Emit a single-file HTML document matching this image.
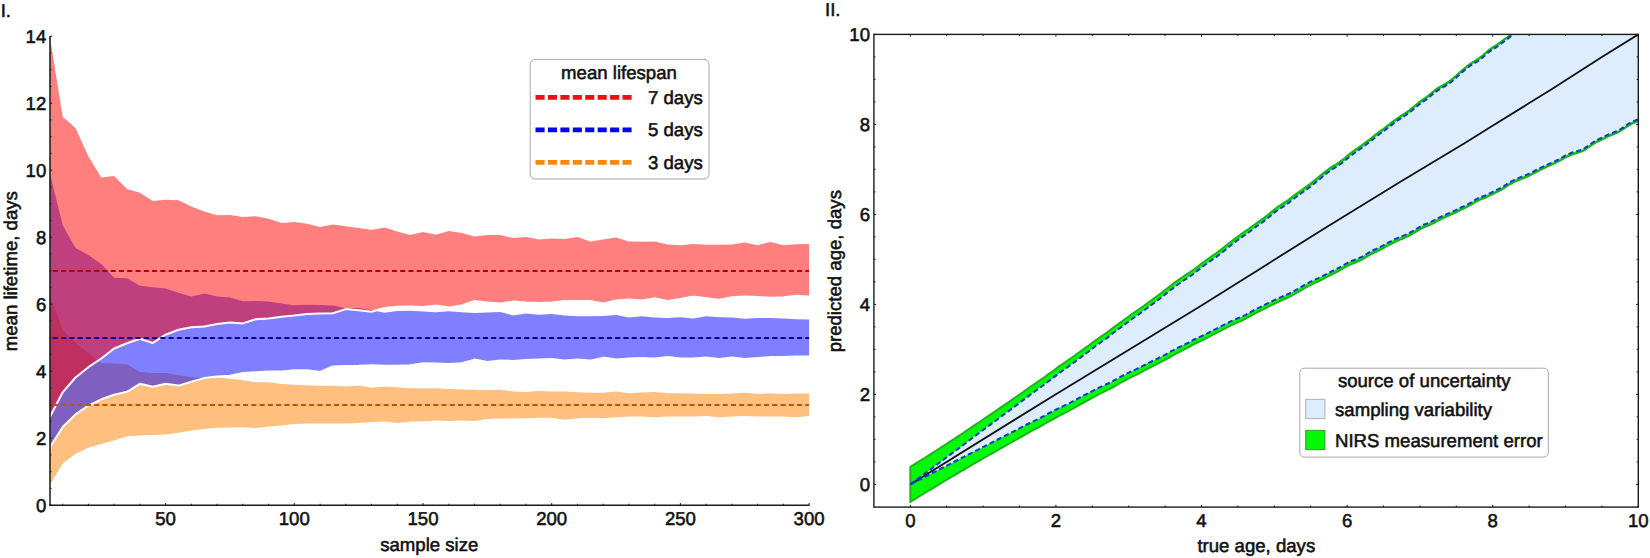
<!DOCTYPE html>
<html><head><meta charset="utf-8"><title>Figure</title>
<style>html,body{margin:0;padding:0;background:#fff;}body{width:1650px;height:558px;overflow:hidden;}svg{display:block;}</style>
</head><body>
<svg width="1650" height="558" viewBox="0 0 1650 558" font-family="Liberation Sans, Arial, sans-serif" font-size="18.6" fill="#111">
<style>text{text-rendering:geometricPrecision;stroke:#111;stroke-width:0.55px;stroke-linejoin:round}</style>
<rect width="1650" height="558" fill="#fff"/>
<path d="M49.8,294.7 L62.7,330.2 L75.5,342.7 L88.4,353.3 L101.3,363.3 L114.1,363.6 L127.0,364.2 L139.9,372.1 L152.8,373.0 L165.6,373.0 L178.5,375.3 L191.4,377.3 L204.2,378.1 L217.1,377.5 L230.0,378.7 L242.8,380.2 L255.7,382.2 L268.6,382.2 L281.5,384.0 L294.3,384.7 L307.2,385.2 L320.1,385.7 L332.9,385.7 L345.8,386.5 L358.7,385.7 L371.6,387.7 L384.4,386.5 L397.3,387.2 L410.2,388.2 L423.0,388.5 L435.9,388.2 L448.8,389.0 L461.6,389.5 L474.5,389.7 L487.4,390.2 L500.2,389.7 L513.1,391.5 L526.0,392.0 L538.9,391.0 L551.7,391.5 L564.6,391.5 L577.5,392.3 L590.3,392.8 L603.2,392.8 L616.1,391.5 L628.9,393.3 L641.8,392.6 L654.7,392.0 L667.6,393.3 L680.4,393.3 L693.3,393.5 L706.2,394.0 L719.0,394.0 L731.9,393.5 L744.8,392.8 L757.6,394.0 L770.5,393.3 L783.4,394.0 L796.3,393.5 L809.1,393.5 L809.1,416.1 L796.3,417.3 L783.4,416.6 L770.5,416.6 L757.6,416.6 L744.8,416.1 L731.9,416.6 L719.0,417.3 L706.2,416.1 L693.3,416.6 L680.4,416.6 L667.6,416.6 L654.7,417.3 L641.8,416.6 L628.9,416.6 L616.1,417.3 L603.2,418.3 L590.3,417.8 L577.5,418.3 L564.6,419.8 L551.7,417.8 L538.9,417.8 L526.0,418.3 L513.1,418.6 L500.2,418.6 L487.4,419.1 L474.5,421.1 L461.6,420.4 L448.8,421.1 L435.9,420.4 L423.0,421.6 L410.2,421.6 L397.3,422.9 L384.4,421.6 L371.6,422.1 L358.7,422.9 L345.8,423.6 L332.9,423.6 L320.1,423.4 L307.2,423.6 L294.3,424.1 L281.5,425.4 L268.6,426.6 L255.7,427.9 L242.8,427.3 L230.0,427.4 L217.1,427.8 L204.2,429.1 L191.4,430.5 L178.5,432.8 L165.6,434.6 L152.8,435.1 L139.9,435.4 L127.0,436.3 L114.1,440.4 L101.3,444.1 L88.4,447.7 L75.5,453.7 L62.7,463.5 L49.8,485.0Z" fill="rgb(255,128,0)" fill-opacity="0.5"/>
<path d="M49.8,173.0 L62.7,225.3 L75.5,248.0 L88.4,255.1 L101.3,263.9 L114.1,277.7 L127.0,278.2 L139.9,285.7 L152.8,287.2 L165.6,288.5 L178.5,292.7 L191.4,296.5 L204.2,293.5 L217.1,296.5 L230.0,297.5 L242.8,301.3 L255.7,300.9 L268.6,301.6 L281.5,303.6 L294.3,305.3 L307.2,304.8 L320.1,304.9 L332.9,305.5 L345.8,308.3 L358.7,308.0 L371.6,310.1 L384.4,312.8 L397.3,311.1 L410.2,310.7 L423.0,311.4 L435.9,312.2 L448.8,311.2 L461.6,312.2 L474.5,312.9 L487.4,312.4 L500.2,312.1 L513.1,315.4 L526.0,313.4 L538.9,314.7 L551.7,314.1 L564.6,315.4 L577.5,316.2 L590.3,316.2 L603.2,315.9 L616.1,314.9 L628.9,317.4 L641.8,316.2 L654.7,317.4 L667.6,317.9 L680.4,317.2 L693.3,318.4 L706.2,316.2 L719.0,317.2 L731.9,317.4 L744.8,318.7 L757.6,317.9 L770.5,317.9 L783.4,318.4 L796.3,319.2 L809.1,319.4 L809.1,356.4 L796.3,356.4 L783.4,357.1 L770.5,357.1 L757.6,358.1 L744.8,358.9 L731.9,357.6 L719.0,358.9 L706.2,357.6 L693.3,358.4 L680.4,358.4 L667.6,357.1 L654.7,358.4 L641.8,358.1 L628.9,358.4 L616.1,359.6 L603.2,357.6 L590.3,360.6 L577.5,359.6 L564.6,360.6 L551.7,358.9 L538.9,359.6 L526.0,360.1 L513.1,360.9 L500.2,360.6 L487.4,362.1 L474.5,359.6 L461.6,363.2 L448.8,363.9 L435.9,363.5 L423.0,363.2 L410.2,365.2 L397.3,365.7 L384.4,365.7 L371.6,365.2 L358.7,365.7 L345.8,365.9 L332.9,366.4 L320.1,371.9 L307.2,370.2 L294.3,370.2 L281.5,371.4 L268.6,371.4 L255.7,372.2 L242.8,373.0 L230.0,375.7 L217.1,376.5 L204.2,378.1 L191.4,381.7 L178.5,385.6 L165.6,383.8 L152.8,386.7 L139.9,383.8 L127.0,391.8 L114.1,394.8 L101.3,399.3 L88.4,405.6 L75.5,414.4 L62.7,427.0 L49.8,447.5Z" fill="rgb(0,0,255)" fill-opacity="0.5"/>
<path d="M49.8,36.3 L62.7,116.8 L75.5,128.0 L88.4,156.5 L101.3,177.6 L114.1,175.9 L127.0,188.9 L139.9,192.7 L152.8,201.0 L165.6,199.7 L178.5,200.2 L191.4,206.5 L204.2,211.5 L217.1,215.3 L230.0,215.0 L242.8,217.1 L255.7,216.3 L268.6,218.8 L281.5,223.1 L294.3,222.1 L307.2,223.8 L320.1,227.1 L332.9,224.6 L345.8,226.3 L358.7,228.1 L371.6,230.1 L384.4,227.6 L397.3,231.4 L410.2,235.1 L423.0,231.9 L435.9,234.8 L448.8,230.9 L461.6,233.1 L474.5,236.4 L487.4,235.1 L500.2,235.1 L513.1,238.1 L526.0,237.1 L538.9,239.6 L551.7,238.4 L564.6,238.9 L577.5,236.9 L590.3,241.4 L603.2,239.4 L616.1,237.6 L628.9,241.4 L641.8,241.7 L654.7,241.4 L667.6,244.4 L680.4,245.2 L693.3,243.9 L706.2,244.7 L719.0,244.7 L731.9,244.4 L744.8,242.6 L757.6,245.2 L770.5,241.9 L783.4,245.2 L796.3,244.2 L809.1,243.9 L809.1,296.6 L796.3,295.8 L783.4,297.3 L770.5,297.8 L757.6,297.1 L744.8,296.6 L731.9,297.3 L719.0,299.8 L706.2,298.3 L693.3,296.6 L680.4,299.1 L667.6,301.1 L654.7,298.3 L641.8,300.4 L628.9,299.6 L616.1,300.4 L603.2,303.4 L590.3,300.9 L577.5,300.9 L564.6,300.9 L551.7,302.4 L538.9,302.9 L526.0,302.4 L513.1,301.6 L500.2,303.6 L487.4,302.4 L474.5,300.9 L461.6,305.5 L448.8,307.6 L435.9,305.5 L423.0,307.0 L410.2,306.5 L397.3,306.8 L384.4,308.0 L371.6,311.7 L358.7,310.3 L345.8,309.1 L332.9,313.3 L320.1,313.5 L307.2,313.9 L294.3,315.5 L281.5,316.7 L268.6,318.4 L255.7,319.2 L242.8,323.4 L230.0,322.5 L217.1,324.1 L204.2,326.6 L191.4,327.3 L178.5,329.8 L165.6,334.7 L152.8,343.0 L139.9,338.8 L127.0,343.3 L114.1,348.5 L101.3,358.5 L88.4,367.2 L75.5,377.5 L62.7,392.3 L49.8,417.0Z" fill="rgb(255,0,0)" fill-opacity="0.5"/>
<path d="M49.8,447.5 L62.7,427.0 L75.5,414.4 L88.4,405.6 L101.3,399.3 L114.1,394.8 L127.0,391.8 L139.9,383.8 L152.8,386.7 L165.6,383.8 L178.5,385.6 L191.4,381.7 L204.2,378.1 L217.1,376.5 L230.0,375.7 L242.8,373.0 L255.7,372.2 L268.6,371.4 L281.5,371.4 L294.3,370.2 L307.2,370.2 L320.1,371.9 L332.9,366.4 L345.8,365.9 L358.7,365.7 L371.6,365.2 L384.4,365.7 L397.3,365.7 L410.2,365.2 L423.0,363.2 L435.9,363.5 L448.8,363.9 L461.6,363.2 L474.5,359.6 L487.4,362.1 L500.2,360.6 L513.1,360.9 L526.0,360.1 L538.9,359.6 L551.7,358.9 L564.6,360.6 L577.5,359.6 L590.3,360.6 L603.2,357.6 L616.1,359.6 L628.9,358.4 L641.8,358.1 L654.7,358.4 L667.6,357.1 L680.4,358.4 L693.3,358.4 L706.2,357.6 L719.0,358.9 L731.9,357.6 L744.8,358.9 L757.6,358.1 L770.5,357.1 L783.4,357.1 L796.3,356.4 L809.1,356.4" fill="none" stroke="#fff" stroke-width="2.0" stroke-linejoin="round"/>
<path d="M49.8,417.0 L62.7,392.3 L75.5,377.5 L88.4,367.2 L101.3,358.5 L114.1,348.5 L127.0,343.3 L139.9,338.8 L152.8,343.0 L165.6,334.7 L178.5,329.8 L191.4,327.3 L204.2,326.6 L217.1,324.1 L230.0,322.5 L242.8,323.4 L255.7,319.2 L268.6,318.4 L281.5,316.7 L294.3,315.5 L307.2,313.9 L320.1,313.5 L332.9,313.3 L345.8,309.1 L358.7,310.3 L371.6,311.7 L384.4,308.0 L397.3,306.8 L410.2,306.5 L423.0,307.0 L435.9,305.5 L448.8,307.6 L461.6,305.5 L474.5,300.9 L487.4,302.4 L500.2,303.6 L513.1,301.6 L526.0,302.4 L538.9,302.9 L551.7,302.4 L564.6,300.9 L577.5,300.9 L590.3,300.9 L603.2,303.4 L616.1,300.4 L628.9,299.6 L641.8,300.4 L654.7,298.3 L667.6,301.1 L680.4,299.1 L693.3,296.6 L706.2,298.3 L719.0,299.8 L731.9,297.3 L744.8,296.6 L757.6,297.1 L770.5,297.8 L783.4,297.3 L796.3,295.8 L809.1,296.6" fill="none" stroke="#fff" stroke-width="2.0" stroke-linejoin="round"/>
<line x1="50.3" x2="809.1" y1="271.0" y2="271.0" stroke="#B40000" stroke-width="1.8" stroke-dasharray="5.1 3.17" stroke-dashoffset="-2.5"/>
<line x1="50.3" x2="809.1" y1="338.0" y2="338.0" stroke="#0000A8" stroke-width="1.8" stroke-dasharray="5.1 3.17" stroke-dashoffset="-2.5"/>
<line x1="50.3" x2="809.1" y1="405.0" y2="405.0" stroke="#B45A00" stroke-width="1.8" stroke-dasharray="5.1 3.17" stroke-dashoffset="-2.5"/>
<line x1="50.0" x2="50.0" y1="36" y2="506" stroke="#1a1a1a" stroke-width="1.5"/>
<line x1="49.3" x2="809.4" y1="505.3" y2="505.3" stroke="#1a1a1a" stroke-width="1.5"/>
<line x1="62.7" x2="62.7" y1="505.3" y2="503.75" stroke="#1a1a1a" stroke-width="1"/>
<line x1="88.4" x2="88.4" y1="505.3" y2="503.75" stroke="#1a1a1a" stroke-width="1"/>
<line x1="114.1" x2="114.1" y1="505.3" y2="503.75" stroke="#1a1a1a" stroke-width="1"/>
<line x1="139.9" x2="139.9" y1="505.3" y2="503.75" stroke="#1a1a1a" stroke-width="1"/>
<line x1="165.6" x2="165.6" y1="505.3" y2="503.05" stroke="#1a1a1a" stroke-width="1"/>
<line x1="191.4" x2="191.4" y1="505.3" y2="503.75" stroke="#1a1a1a" stroke-width="1"/>
<line x1="217.1" x2="217.1" y1="505.3" y2="503.75" stroke="#1a1a1a" stroke-width="1"/>
<line x1="242.8" x2="242.8" y1="505.3" y2="503.75" stroke="#1a1a1a" stroke-width="1"/>
<line x1="268.6" x2="268.6" y1="505.3" y2="503.75" stroke="#1a1a1a" stroke-width="1"/>
<line x1="294.3" x2="294.3" y1="505.3" y2="503.05" stroke="#1a1a1a" stroke-width="1"/>
<line x1="320.1" x2="320.1" y1="505.3" y2="503.75" stroke="#1a1a1a" stroke-width="1"/>
<line x1="345.8" x2="345.8" y1="505.3" y2="503.75" stroke="#1a1a1a" stroke-width="1"/>
<line x1="371.6" x2="371.6" y1="505.3" y2="503.75" stroke="#1a1a1a" stroke-width="1"/>
<line x1="397.3" x2="397.3" y1="505.3" y2="503.75" stroke="#1a1a1a" stroke-width="1"/>
<line x1="423.0" x2="423.0" y1="505.3" y2="503.05" stroke="#1a1a1a" stroke-width="1"/>
<line x1="448.8" x2="448.8" y1="505.3" y2="503.75" stroke="#1a1a1a" stroke-width="1"/>
<line x1="474.5" x2="474.5" y1="505.3" y2="503.75" stroke="#1a1a1a" stroke-width="1"/>
<line x1="500.2" x2="500.2" y1="505.3" y2="503.75" stroke="#1a1a1a" stroke-width="1"/>
<line x1="526.0" x2="526.0" y1="505.3" y2="503.75" stroke="#1a1a1a" stroke-width="1"/>
<line x1="551.7" x2="551.7" y1="505.3" y2="503.05" stroke="#1a1a1a" stroke-width="1"/>
<line x1="577.5" x2="577.5" y1="505.3" y2="503.75" stroke="#1a1a1a" stroke-width="1"/>
<line x1="603.2" x2="603.2" y1="505.3" y2="503.75" stroke="#1a1a1a" stroke-width="1"/>
<line x1="628.9" x2="628.9" y1="505.3" y2="503.75" stroke="#1a1a1a" stroke-width="1"/>
<line x1="654.7" x2="654.7" y1="505.3" y2="503.75" stroke="#1a1a1a" stroke-width="1"/>
<line x1="680.4" x2="680.4" y1="505.3" y2="503.05" stroke="#1a1a1a" stroke-width="1"/>
<line x1="706.2" x2="706.2" y1="505.3" y2="503.75" stroke="#1a1a1a" stroke-width="1"/>
<line x1="731.9" x2="731.9" y1="505.3" y2="503.75" stroke="#1a1a1a" stroke-width="1"/>
<line x1="757.6" x2="757.6" y1="505.3" y2="503.75" stroke="#1a1a1a" stroke-width="1"/>
<line x1="783.4" x2="783.4" y1="505.3" y2="503.75" stroke="#1a1a1a" stroke-width="1"/>
<line x1="809.1" x2="809.1" y1="505.3" y2="503.05" stroke="#1a1a1a" stroke-width="1"/>
<text x="165.6" y="525.4" text-anchor="middle">50</text>
<text x="294.3" y="525.4" text-anchor="middle">100</text>
<text x="423.0" y="525.4" text-anchor="middle">150</text>
<text x="551.7" y="525.4" text-anchor="middle">200</text>
<text x="680.4" y="525.4" text-anchor="middle">250</text>
<text x="809.1" y="525.4" text-anchor="middle">300</text>
<line x1="50.0" x2="52.199999999999996" y1="505.2" y2="505.2" stroke="#1a1a1a" stroke-width="1"/>
<line x1="50.0" x2="51.49999999999999" y1="488.4" y2="488.4" stroke="#1a1a1a" stroke-width="1"/>
<line x1="50.0" x2="51.49999999999999" y1="471.7" y2="471.7" stroke="#1a1a1a" stroke-width="1"/>
<line x1="50.0" x2="51.49999999999999" y1="454.9" y2="454.9" stroke="#1a1a1a" stroke-width="1"/>
<line x1="50.0" x2="52.199999999999996" y1="438.2" y2="438.2" stroke="#1a1a1a" stroke-width="1"/>
<line x1="50.0" x2="51.49999999999999" y1="421.4" y2="421.4" stroke="#1a1a1a" stroke-width="1"/>
<line x1="50.0" x2="51.49999999999999" y1="404.7" y2="404.7" stroke="#1a1a1a" stroke-width="1"/>
<line x1="50.0" x2="51.49999999999999" y1="387.9" y2="387.9" stroke="#1a1a1a" stroke-width="1"/>
<line x1="50.0" x2="52.199999999999996" y1="371.2" y2="371.2" stroke="#1a1a1a" stroke-width="1"/>
<line x1="50.0" x2="51.49999999999999" y1="354.4" y2="354.4" stroke="#1a1a1a" stroke-width="1"/>
<line x1="50.0" x2="51.49999999999999" y1="337.7" y2="337.7" stroke="#1a1a1a" stroke-width="1"/>
<line x1="50.0" x2="51.49999999999999" y1="320.9" y2="320.9" stroke="#1a1a1a" stroke-width="1"/>
<line x1="50.0" x2="52.199999999999996" y1="304.2" y2="304.2" stroke="#1a1a1a" stroke-width="1"/>
<line x1="50.0" x2="51.49999999999999" y1="287.4" y2="287.4" stroke="#1a1a1a" stroke-width="1"/>
<line x1="50.0" x2="51.49999999999999" y1="270.7" y2="270.7" stroke="#1a1a1a" stroke-width="1"/>
<line x1="50.0" x2="51.49999999999999" y1="253.9" y2="253.9" stroke="#1a1a1a" stroke-width="1"/>
<line x1="50.0" x2="52.199999999999996" y1="237.2" y2="237.2" stroke="#1a1a1a" stroke-width="1"/>
<line x1="50.0" x2="51.49999999999999" y1="220.4" y2="220.4" stroke="#1a1a1a" stroke-width="1"/>
<line x1="50.0" x2="51.49999999999999" y1="203.7" y2="203.7" stroke="#1a1a1a" stroke-width="1"/>
<line x1="50.0" x2="51.49999999999999" y1="186.9" y2="186.9" stroke="#1a1a1a" stroke-width="1"/>
<line x1="50.0" x2="52.199999999999996" y1="170.2" y2="170.2" stroke="#1a1a1a" stroke-width="1"/>
<line x1="50.0" x2="51.49999999999999" y1="153.4" y2="153.4" stroke="#1a1a1a" stroke-width="1"/>
<line x1="50.0" x2="51.49999999999999" y1="136.7" y2="136.7" stroke="#1a1a1a" stroke-width="1"/>
<line x1="50.0" x2="51.49999999999999" y1="119.9" y2="119.9" stroke="#1a1a1a" stroke-width="1"/>
<line x1="50.0" x2="52.199999999999996" y1="103.2" y2="103.2" stroke="#1a1a1a" stroke-width="1"/>
<line x1="50.0" x2="51.49999999999999" y1="86.4" y2="86.4" stroke="#1a1a1a" stroke-width="1"/>
<line x1="50.0" x2="51.49999999999999" y1="69.7" y2="69.7" stroke="#1a1a1a" stroke-width="1"/>
<line x1="50.0" x2="51.49999999999999" y1="52.9" y2="52.9" stroke="#1a1a1a" stroke-width="1"/>
<line x1="50.0" x2="52.199999999999996" y1="36.2" y2="36.2" stroke="#1a1a1a" stroke-width="1"/>
<text x="46.3" y="512.2" text-anchor="end">0</text>
<text x="46.3" y="445.2" text-anchor="end">2</text>
<text x="46.3" y="378.2" text-anchor="end">4</text>
<text x="46.3" y="311.2" text-anchor="end">6</text>
<text x="46.3" y="244.2" text-anchor="end">8</text>
<text x="46.3" y="177.2" text-anchor="end">10</text>
<text x="46.3" y="110.2" text-anchor="end">12</text>
<text x="46.3" y="43.2" text-anchor="end">14</text>
<text x="429.3" y="550.7" text-anchor="middle">sample size</text>
<text transform="translate(17.3,271.2) rotate(-90)" text-anchor="middle">mean lifetime, days</text>
<text x="0.7" y="17.3">I.</text>
<rect x="530.2" y="59.4" width="178.8" height="119.6" rx="5" ry="5" fill="#fff" stroke="#a8a8a8" stroke-width="1"/>
<text x="619" y="79" text-anchor="middle">mean lifespan</text>
<line x1="535.5" x2="631.7" y1="97.3" y2="97.3" stroke="#EE1010" stroke-width="4.8" stroke-dasharray="9.1 3.33"/>
<text x="648" y="103.7">7 days</text>
<line x1="535.5" x2="631.7" y1="129.8" y2="129.8" stroke="#0505EE" stroke-width="4.8" stroke-dasharray="9.1 3.33"/>
<text x="648" y="136.2">5 days</text>
<line x1="535.5" x2="631.7" y1="162.3" y2="162.3" stroke="#F58A12" stroke-width="4.8" stroke-dasharray="9.1 3.33"/>
<text x="648" y="168.7">3 days</text>
<clipPath id="rc"><rect x="873.9" y="34.4" width="764.4" height="472.6"/></clipPath>
<g clip-path="url(#rc)">
<path d="M910.3,466.8 L913.9,464.6 L917.6,462.3 L921.2,460.0 L924.9,457.8 L928.5,455.5 L932.1,453.1 L935.8,450.8 L939.4,448.5 L943.1,446.1 L946.7,443.7 L950.3,441.4 L954.0,439.0 L957.6,436.6 L961.3,434.2 L964.9,431.8 L968.5,429.3 L972.2,426.9 L975.8,424.4 L979.5,422.0 L983.1,419.5 L986.7,417.0 L990.4,414.6 L994.0,412.1 L997.7,409.6 L1001.3,407.1 L1004.9,404.6 L1008.6,402.1 L1012.2,399.6 L1015.9,397.0 L1019.5,394.5 L1023.1,391.9 L1026.8,389.3 L1030.4,386.8 L1034.1,384.2 L1037.7,381.7 L1041.3,379.2 L1045.0,376.7 L1048.6,374.1 L1052.3,371.4 L1055.9,368.7 L1059.5,366.1 L1063.2,363.5 L1066.8,361.0 L1070.5,358.5 L1074.1,356.0 L1077.7,353.3 L1081.4,350.7 L1085.0,348.1 L1088.7,345.5 L1092.3,342.8 L1095.9,340.1 L1099.6,337.5 L1103.2,335.0 L1106.9,332.5 L1110.5,329.8 L1114.1,327.0 L1117.8,324.3 L1121.4,321.7 L1125.1,319.1 L1128.7,316.4 L1132.3,313.8 L1136.0,311.3 L1139.6,308.8 L1143.3,306.2 L1146.9,303.5 L1150.5,300.9 L1154.2,298.2 L1157.8,295.6 L1161.5,292.8 L1165.1,290.0 L1168.7,287.2 L1172.4,284.3 L1176.0,281.6 L1179.7,279.0 L1183.3,276.5 L1186.9,274.1 L1190.6,271.7 L1194.2,269.2 L1197.9,266.4 L1201.5,263.6 L1205.1,260.9 L1208.8,258.3 L1212.4,255.8 L1216.1,253.3 L1219.7,250.6 L1223.3,247.8 L1227.0,244.8 L1230.6,241.9 L1234.3,239.0 L1237.9,236.4 L1241.5,233.9 L1245.2,231.3 L1248.8,228.8 L1252.5,226.0 L1256.1,223.4 L1259.7,220.7 L1263.4,218.3 L1267.0,215.4 L1270.7,212.4 L1274.3,209.4 L1277.9,206.8 L1281.6,204.4 L1285.2,202.0 L1288.9,199.5 L1292.5,196.6 L1296.1,193.9 L1299.8,191.2 L1303.4,188.7 L1307.1,186.1 L1310.7,183.4 L1314.3,180.5 L1318.0,177.5 L1321.6,174.5 L1325.3,171.6 L1328.9,168.9 L1332.5,166.4 L1336.2,164.2 L1339.8,161.7 L1343.5,159.1 L1347.1,156.0 L1350.7,153.0 L1354.4,150.4 L1358.0,147.8 L1361.7,145.3 L1365.3,142.6 L1368.9,139.9 L1372.6,137.1 L1376.2,134.1 L1379.9,131.3 L1383.5,128.7 L1387.1,126.0 L1390.8,123.1 L1394.4,120.3 L1398.1,117.7 L1401.7,115.3 L1405.3,113.1 L1409.0,110.5 L1412.6,107.6 L1416.3,104.4 L1419.9,101.6 L1423.5,99.1 L1427.2,96.5 L1430.8,93.4 L1434.5,90.4 L1438.1,87.8 L1441.7,85.8 L1445.4,83.7 L1449.0,81.4 L1452.7,78.6 L1456.3,75.4 L1459.9,72.1 L1463.6,68.9 L1467.2,65.9 L1470.9,63.2 L1474.5,61.0 L1478.1,58.9 L1481.8,56.1 L1485.4,52.9 L1489.1,49.8 L1492.7,47.4 L1496.3,45.1 L1500.0,42.6 L1503.6,39.7 L1507.3,37.2 L1510.9,34.3 L1514.5,31.6 L1518.2,28.4 L1521.8,25.5 L1525.5,22.7 L1529.1,20.2 L1532.7,17.8 L1536.4,15.4 L1540.0,12.3 L1543.7,9.6 L1547.3,6.7 L1550.9,4.7 L1554.6,2.3 L1558.2,-0.3 L1561.9,-3.2 L1565.5,-6.2 L1569.1,-8.6 L1572.8,-11.0 L1576.4,-13.1 L1580.1,-16.2 L1583.7,-19.1 L1587.3,-22.2 L1591.0,-24.2 L1594.6,-26.6 L1598.3,-29.2 L1601.9,-32.5 L1605.5,-36.0 L1609.2,-39.1 L1612.8,-41.9 L1616.5,-44.4 L1620.1,-47.3 L1623.7,-50.1 L1627.4,-52.9 L1631.0,-55.2 L1634.7,-57.5 L1638.3,-59.4 L1638.3,121.0 L1634.7,122.5 L1631.0,124.1 L1627.4,126.4 L1623.7,128.9 L1620.1,131.3 L1616.5,133.1 L1612.8,134.6 L1609.2,136.0 L1605.5,137.8 L1601.9,139.6 L1598.3,141.4 L1594.6,143.2 L1591.0,145.7 L1587.3,148.3 L1583.7,150.7 L1580.1,152.1 L1576.4,153.4 L1572.8,154.3 L1569.1,155.8 L1565.5,157.4 L1561.9,159.6 L1558.2,161.7 L1554.6,163.5 L1550.9,165.1 L1547.3,166.7 L1543.7,168.4 L1540.0,170.2 L1536.4,172.1 L1532.7,174.0 L1529.1,175.8 L1525.5,177.5 L1521.8,178.8 L1518.2,180.4 L1514.5,182.0 L1510.9,183.9 L1507.3,186.0 L1503.6,188.5 L1500.0,190.7 L1496.3,192.4 L1492.7,194.1 L1489.1,196.0 L1485.4,197.8 L1481.8,199.1 L1478.1,200.6 L1474.5,202.7 L1470.9,205.0 L1467.2,207.0 L1463.6,208.7 L1459.9,210.4 L1456.3,212.3 L1452.7,214.0 L1449.0,215.7 L1445.4,217.1 L1441.7,218.8 L1438.1,220.7 L1434.5,222.8 L1430.8,224.5 L1427.2,226.0 L1423.5,227.6 L1419.9,229.5 L1416.3,231.6 L1412.6,233.8 L1409.0,235.8 L1405.3,237.5 L1401.7,239.0 L1398.1,240.6 L1394.4,242.3 L1390.8,244.2 L1387.1,246.0 L1383.5,248.2 L1379.9,249.9 L1376.2,251.9 L1372.6,253.4 L1368.9,255.5 L1365.3,257.6 L1361.7,259.8 L1358.0,261.5 L1354.4,263.0 L1350.7,264.3 L1347.1,266.1 L1343.5,268.2 L1339.8,270.4 L1336.2,272.4 L1332.5,274.1 L1328.9,276.0 L1325.3,277.9 L1321.6,279.8 L1318.0,281.6 L1314.3,283.2 L1310.7,285.0 L1307.1,287.0 L1303.4,289.0 L1299.8,291.1 L1296.1,293.2 L1292.5,295.3 L1288.9,297.2 L1285.2,298.8 L1281.6,300.4 L1277.9,302.1 L1274.3,303.8 L1270.7,305.6 L1267.0,307.4 L1263.4,309.3 L1259.7,311.1 L1256.1,312.9 L1252.5,314.8 L1248.8,316.9 L1245.2,319.0 L1241.5,320.8 L1237.9,322.3 L1234.3,323.9 L1230.6,325.6 L1227.0,327.5 L1223.3,329.4 L1219.7,331.3 L1216.1,333.2 L1212.4,335.0 L1208.8,337.0 L1205.1,338.8 L1201.5,340.6 L1197.9,342.4 L1194.2,344.2 L1190.6,346.2 L1186.9,348.1 L1183.3,350.0 L1179.7,351.8 L1176.0,353.7 L1172.4,355.7 L1168.7,357.8 L1165.1,359.8 L1161.5,361.7 L1157.8,363.6 L1154.2,365.4 L1150.5,367.4 L1146.9,369.2 L1143.3,371.2 L1139.6,373.1 L1136.0,375.0 L1132.3,376.7 L1128.7,378.5 L1125.1,380.4 L1121.4,382.3 L1117.8,384.5 L1114.1,386.6 L1110.5,388.6 L1106.9,390.3 L1103.2,392.2 L1099.6,394.0 L1095.9,396.0 L1092.3,397.9 L1088.7,399.9 L1085.0,401.8 L1081.4,403.8 L1077.7,405.9 L1074.1,408.0 L1070.5,410.0 L1066.8,412.0 L1063.2,413.8 L1059.5,415.7 L1055.9,417.6 L1052.3,419.6 L1048.6,421.7 L1045.0,423.7 L1041.3,425.8 L1037.7,427.8 L1034.1,429.7 L1030.4,431.7 L1026.8,433.7 L1023.1,435.8 L1019.5,437.9 L1015.9,440.0 L1012.2,442.0 L1008.6,444.0 L1004.9,446.1 L1001.3,448.1 L997.7,450.2 L994.0,452.3 L990.4,454.3 L986.7,456.5 L983.1,458.5 L979.5,460.6 L975.8,462.7 L972.2,464.8 L968.5,467.0 L964.9,469.1 L961.3,471.2 L957.6,473.4 L954.0,475.5 L950.3,477.7 L946.7,479.8 L943.1,482.0 L939.4,484.2 L935.8,486.4 L932.1,488.6 L928.5,490.8 L924.9,493.0 L921.2,495.2 L917.6,497.5 L913.9,499.7 L910.3,501.9Z" fill="#05F805" stroke="#1FB01F" stroke-width="1.9" stroke-linejoin="round"/>
<path d="M910.3,484.4 L913.9,481.7 L917.6,479.0 L921.2,476.3 L924.9,473.6 L928.5,470.9 L932.1,468.2 L935.8,465.4 L939.4,462.7 L943.1,460.0 L946.7,457.3 L950.3,454.6 L954.0,451.9 L957.6,449.2 L961.3,446.4 L964.9,443.7 L968.5,440.9 L972.2,438.1 L975.8,435.4 L979.5,432.7 L983.1,430.0 L986.7,427.3 L990.4,424.6 L994.0,421.9 L997.7,419.2 L1001.3,416.4 L1004.9,413.8 L1008.6,411.1 L1012.2,408.4 L1015.9,405.7 L1019.5,402.9 L1023.1,400.1 L1026.8,397.4 L1030.4,394.7 L1034.1,392.0 L1037.7,389.3 L1041.3,386.7 L1045.0,384.1 L1048.6,381.3 L1052.3,378.5 L1055.9,375.7 L1059.5,372.9 L1063.2,370.2 L1066.8,367.7 L1070.5,365.0 L1074.1,362.4 L1077.7,359.6 L1081.4,356.9 L1085.0,354.2 L1088.7,351.5 L1092.3,348.7 L1095.9,345.8 L1099.6,343.2 L1103.2,340.7 L1106.9,338.1 L1110.5,335.2 L1114.1,332.3 L1117.8,329.6 L1121.4,327.0 L1125.1,324.3 L1128.7,321.5 L1132.3,318.8 L1136.0,316.2 L1139.6,313.7 L1143.3,311.0 L1146.9,308.2 L1150.5,305.6 L1154.2,302.9 L1157.8,300.2 L1161.5,297.3 L1165.1,294.4 L1168.7,291.5 L1172.4,288.6 L1176.0,285.8 L1179.7,283.2 L1183.3,280.7 L1186.9,278.3 L1190.6,275.8 L1194.2,273.3 L1197.9,270.4 L1201.5,267.6 L1205.1,264.8 L1208.8,262.2 L1212.4,259.6 L1216.1,257.1 L1219.7,254.3 L1223.3,251.5 L1227.0,248.5 L1230.6,245.5 L1234.3,242.6 L1237.9,239.9 L1241.5,237.4 L1245.2,234.8 L1248.8,232.3 L1252.5,229.4 L1256.1,226.8 L1259.7,224.1 L1263.4,221.6 L1267.0,218.7 L1270.7,215.7 L1274.3,212.6 L1277.9,209.9 L1281.6,207.6 L1285.2,205.2 L1288.9,202.6 L1292.5,199.7 L1296.1,197.0 L1299.8,194.2 L1303.4,191.7 L1307.1,189.1 L1310.7,186.4 L1314.3,183.4 L1318.0,180.4 L1321.6,177.4 L1325.3,174.4 L1328.9,171.7 L1332.5,169.1 L1336.2,167.0 L1339.8,164.5 L1343.5,161.8 L1347.1,158.7 L1350.7,155.7 L1354.4,153.0 L1358.0,150.5 L1361.7,147.9 L1365.3,145.2 L1368.9,142.4 L1372.6,139.6 L1376.2,136.6 L1379.9,133.8 L1383.5,131.2 L1387.1,128.4 L1390.8,125.6 L1394.4,122.7 L1398.1,120.1 L1401.7,117.7 L1405.3,115.5 L1409.0,112.9 L1412.6,110.0 L1416.3,106.8 L1419.9,103.9 L1423.5,101.4 L1427.2,98.8 L1430.8,95.7 L1434.5,92.7 L1438.1,90.1 L1441.7,88.0 L1445.4,86.0 L1449.0,83.6 L1452.7,80.8 L1456.3,77.6 L1459.9,74.2 L1463.6,71.0 L1467.2,68.0 L1470.9,65.3 L1474.5,63.1 L1478.1,61.0 L1481.8,58.2 L1485.4,55.0 L1489.1,51.8 L1492.7,49.5 L1496.3,47.2 L1500.0,44.6 L1503.6,41.7 L1507.3,39.1 L1510.9,36.3 L1514.5,33.6 L1518.2,30.4 L1521.8,27.4 L1525.5,24.6 L1529.1,22.1 L1532.7,19.8 L1536.4,17.3 L1540.0,14.2 L1543.7,11.4 L1547.3,8.6 L1550.9,6.5 L1554.6,4.1 L1558.2,1.5 L1561.9,-1.4 L1565.5,-4.4 L1569.1,-6.8 L1572.8,-9.2 L1576.4,-11.3 L1580.1,-14.4 L1583.7,-17.3 L1587.3,-20.4 L1591.0,-22.4 L1594.6,-24.8 L1598.3,-27.4 L1601.9,-30.8 L1605.5,-34.3 L1609.2,-37.4 L1612.8,-40.2 L1616.5,-42.7 L1620.1,-45.6 L1623.7,-48.4 L1627.4,-51.3 L1631.0,-53.6 L1634.7,-55.9 L1638.3,-57.8 L1638.3,119.2 L1634.7,120.7 L1631.0,122.3 L1627.4,124.5 L1623.7,127.1 L1620.1,129.5 L1616.5,131.3 L1612.8,132.8 L1609.2,134.1 L1605.5,135.9 L1601.9,137.7 L1598.3,139.5 L1594.6,141.3 L1591.0,143.8 L1587.3,146.4 L1583.7,148.8 L1580.1,150.2 L1576.4,151.4 L1572.8,152.3 L1569.1,153.8 L1565.5,155.4 L1561.9,157.6 L1558.2,159.7 L1554.6,161.5 L1550.9,163.1 L1547.3,164.6 L1543.7,166.3 L1540.0,168.1 L1536.4,170.0 L1532.7,171.9 L1529.1,173.7 L1525.5,175.3 L1521.8,176.7 L1518.2,178.2 L1514.5,179.8 L1510.9,181.7 L1507.3,183.8 L1503.6,186.3 L1500.0,188.4 L1496.3,190.2 L1492.7,191.9 L1489.1,193.7 L1485.4,195.5 L1481.8,196.8 L1478.1,198.2 L1474.5,200.3 L1470.9,202.7 L1467.2,204.7 L1463.6,206.4 L1459.9,208.0 L1456.3,209.9 L1452.7,211.6 L1449.0,213.3 L1445.4,214.7 L1441.7,216.3 L1438.1,218.2 L1434.5,220.2 L1430.8,221.9 L1427.2,223.4 L1423.5,225.0 L1419.9,226.8 L1416.3,229.0 L1412.6,231.2 L1409.0,233.2 L1405.3,234.9 L1401.7,236.3 L1398.1,237.9 L1394.4,239.5 L1390.8,241.4 L1387.1,243.2 L1383.5,245.3 L1379.9,247.1 L1376.2,249.0 L1372.6,250.5 L1368.9,252.6 L1365.3,254.7 L1361.7,256.9 L1358.0,258.5 L1354.4,260.0 L1350.7,261.3 L1347.1,263.1 L1343.5,265.2 L1339.8,267.4 L1336.2,269.2 L1332.5,271.0 L1328.9,272.8 L1325.3,274.7 L1321.6,276.6 L1318.0,278.3 L1314.3,279.9 L1310.7,281.7 L1307.1,283.6 L1303.4,285.7 L1299.8,287.7 L1296.1,289.9 L1292.5,291.9 L1288.9,293.8 L1285.2,295.3 L1281.6,296.9 L1277.9,298.5 L1274.3,300.1 L1270.7,301.9 L1267.0,303.7 L1263.4,305.6 L1259.7,307.4 L1256.1,309.1 L1252.5,311.0 L1248.8,313.1 L1245.2,315.1 L1241.5,316.9 L1237.9,318.3 L1234.3,319.8 L1230.6,321.4 L1227.0,323.3 L1223.3,325.2 L1219.7,327.0 L1216.1,328.9 L1212.4,330.6 L1208.8,332.6 L1205.1,334.3 L1201.5,336.1 L1197.9,337.8 L1194.2,339.5 L1190.6,341.5 L1186.9,343.3 L1183.3,345.1 L1179.7,346.9 L1176.0,348.8 L1172.4,350.7 L1168.7,352.7 L1165.1,354.8 L1161.5,356.6 L1157.8,358.5 L1154.2,360.2 L1150.5,362.0 L1146.9,363.8 L1143.3,365.7 L1139.6,367.5 L1136.0,369.3 L1132.3,371.0 L1128.7,372.7 L1125.1,374.4 L1121.4,376.3 L1117.8,378.4 L1114.1,380.4 L1110.5,382.4 L1106.9,384.0 L1103.2,385.7 L1099.6,387.3 L1095.9,389.3 L1092.3,391.1 L1088.7,393.0 L1085.0,394.8 L1081.4,396.7 L1077.7,398.7 L1074.1,400.7 L1070.5,402.7 L1066.8,404.5 L1063.2,406.1 L1059.5,407.8 L1055.9,409.6 L1052.3,411.5 L1048.6,413.4 L1045.0,415.4 L1041.3,417.4 L1037.7,419.2 L1034.1,420.9 L1030.4,422.7 L1026.8,424.5 L1023.1,426.4 L1019.5,428.4 L1015.9,430.3 L1012.2,432.2 L1008.6,434.0 L1004.9,435.8 L1001.3,437.7 L997.7,439.5 L994.0,441.4 L990.4,443.3 L986.7,445.2 L983.1,447.1 L979.5,448.9 L975.8,450.8 L972.2,452.6 L968.5,454.4 L964.9,456.3 L961.3,458.2 L957.6,460.0 L954.0,461.9 L950.3,463.8 L946.7,465.7 L943.1,467.5 L939.4,469.4 L935.8,471.3 L932.1,473.1 L928.5,475.0 L924.9,476.9 L921.2,478.8 L917.6,480.7 L913.9,482.5 L910.3,484.4Z" fill="#DEEDFD"/>
<path d="M910.3,484.4 L1055.9,394.2 L1143.3,340.9 L1201.5,305.5 L1267.0,264.4 L1323.1,229.2 L1400.0,181.9 L1464.5,143.3 L1494.6,124.6 L1552.0,88.9 L1601.9,57.1 L1638.3,34.4" stroke="#111" stroke-width="1.8" fill="none" stroke-linejoin="round"/>
<path d="M910.3,484.4 L913.9,481.7 L917.6,479.0 L921.2,476.3 L924.9,473.6 L928.5,470.9 L932.1,468.2 L935.8,465.4 L939.4,462.7 L943.1,460.0 L946.7,457.3 L950.3,454.6 L954.0,451.9 L957.6,449.2 L961.3,446.4 L964.9,443.7 L968.5,440.9 L972.2,438.1 L975.8,435.4 L979.5,432.7 L983.1,430.0 L986.7,427.3 L990.4,424.6 L994.0,421.9 L997.7,419.2 L1001.3,416.4 L1004.9,413.8 L1008.6,411.1 L1012.2,408.4 L1015.9,405.7 L1019.5,402.9 L1023.1,400.1 L1026.8,397.4 L1030.4,394.7 L1034.1,392.0 L1037.7,389.3 L1041.3,386.7 L1045.0,384.1 L1048.6,381.3 L1052.3,378.5 L1055.9,375.7 L1059.5,372.9 L1063.2,370.2 L1066.8,367.7 L1070.5,365.0 L1074.1,362.4 L1077.7,359.6 L1081.4,356.9 L1085.0,354.2 L1088.7,351.5 L1092.3,348.7 L1095.9,345.8 L1099.6,343.2 L1103.2,340.7 L1106.9,338.1 L1110.5,335.2 L1114.1,332.3 L1117.8,329.6 L1121.4,327.0 L1125.1,324.3 L1128.7,321.5 L1132.3,318.8 L1136.0,316.2 L1139.6,313.7 L1143.3,311.0 L1146.9,308.2 L1150.5,305.6 L1154.2,302.9 L1157.8,300.2 L1161.5,297.3 L1165.1,294.4 L1168.7,291.5 L1172.4,288.6 L1176.0,285.8 L1179.7,283.2 L1183.3,280.7 L1186.9,278.3 L1190.6,275.8 L1194.2,273.3 L1197.9,270.4 L1201.5,267.6 L1205.1,264.8 L1208.8,262.2 L1212.4,259.6 L1216.1,257.1 L1219.7,254.3 L1223.3,251.5 L1227.0,248.5 L1230.6,245.5 L1234.3,242.6 L1237.9,239.9 L1241.5,237.4 L1245.2,234.8 L1248.8,232.3 L1252.5,229.4 L1256.1,226.8 L1259.7,224.1 L1263.4,221.6 L1267.0,218.7 L1270.7,215.7 L1274.3,212.6 L1277.9,209.9 L1281.6,207.6 L1285.2,205.2 L1288.9,202.6 L1292.5,199.7 L1296.1,197.0 L1299.8,194.2 L1303.4,191.7 L1307.1,189.1 L1310.7,186.4 L1314.3,183.4 L1318.0,180.4 L1321.6,177.4 L1325.3,174.4 L1328.9,171.7 L1332.5,169.1 L1336.2,167.0 L1339.8,164.5 L1343.5,161.8 L1347.1,158.7 L1350.7,155.7 L1354.4,153.0 L1358.0,150.5 L1361.7,147.9 L1365.3,145.2 L1368.9,142.4 L1372.6,139.6 L1376.2,136.6 L1379.9,133.8 L1383.5,131.2 L1387.1,128.4 L1390.8,125.6 L1394.4,122.7 L1398.1,120.1 L1401.7,117.7 L1405.3,115.5 L1409.0,112.9 L1412.6,110.0 L1416.3,106.8 L1419.9,103.9 L1423.5,101.4 L1427.2,98.8 L1430.8,95.7 L1434.5,92.7 L1438.1,90.1 L1441.7,88.0 L1445.4,86.0 L1449.0,83.6 L1452.7,80.8 L1456.3,77.6 L1459.9,74.2 L1463.6,71.0 L1467.2,68.0 L1470.9,65.3 L1474.5,63.1 L1478.1,61.0 L1481.8,58.2 L1485.4,55.0 L1489.1,51.8 L1492.7,49.5 L1496.3,47.2 L1500.0,44.6 L1503.6,41.7 L1507.3,39.1 L1510.9,36.3 L1514.5,33.6 L1518.2,30.4 L1521.8,27.4 L1525.5,24.6 L1529.1,22.1 L1532.7,19.8 L1536.4,17.3 L1540.0,14.2 L1543.7,11.4 L1547.3,8.6 L1550.9,6.5 L1554.6,4.1 L1558.2,1.5 L1561.9,-1.4 L1565.5,-4.4 L1569.1,-6.8 L1572.8,-9.2 L1576.4,-11.3 L1580.1,-14.4 L1583.7,-17.3 L1587.3,-20.4 L1591.0,-22.4 L1594.6,-24.8 L1598.3,-27.4 L1601.9,-30.8 L1605.5,-34.3 L1609.2,-37.4 L1612.8,-40.2 L1616.5,-42.7 L1620.1,-45.6 L1623.7,-48.4 L1627.4,-51.3 L1631.0,-53.6 L1634.7,-55.9 L1638.3,-57.8" stroke="#1838C8" stroke-width="2.0" stroke-dasharray="5.2 2.9" fill="none"/>
<path d="M910.3,484.4 L913.9,482.5 L917.6,480.7 L921.2,478.8 L924.9,476.9 L928.5,475.0 L932.1,473.1 L935.8,471.3 L939.4,469.4 L943.1,467.5 L946.7,465.7 L950.3,463.8 L954.0,461.9 L957.6,460.0 L961.3,458.2 L964.9,456.3 L968.5,454.4 L972.2,452.6 L975.8,450.8 L979.5,448.9 L983.1,447.1 L986.7,445.2 L990.4,443.3 L994.0,441.4 L997.7,439.5 L1001.3,437.7 L1004.9,435.8 L1008.6,434.0 L1012.2,432.2 L1015.9,430.3 L1019.5,428.4 L1023.1,426.4 L1026.8,424.5 L1030.4,422.7 L1034.1,420.9 L1037.7,419.2 L1041.3,417.4 L1045.0,415.4 L1048.6,413.4 L1052.3,411.5 L1055.9,409.6 L1059.5,407.8 L1063.2,406.1 L1066.8,404.5 L1070.5,402.7 L1074.1,400.7 L1077.7,398.7 L1081.4,396.7 L1085.0,394.8 L1088.7,393.0 L1092.3,391.1 L1095.9,389.3 L1099.6,387.3 L1103.2,385.7 L1106.9,384.0 L1110.5,382.4 L1114.1,380.4 L1117.8,378.4 L1121.4,376.3 L1125.1,374.4 L1128.7,372.7 L1132.3,371.0 L1136.0,369.3 L1139.6,367.5 L1143.3,365.7 L1146.9,363.8 L1150.5,362.0 L1154.2,360.2 L1157.8,358.5 L1161.5,356.6 L1165.1,354.8 L1168.7,352.7 L1172.4,350.7 L1176.0,348.8 L1179.7,346.9 L1183.3,345.1 L1186.9,343.3 L1190.6,341.5 L1194.2,339.5 L1197.9,337.8 L1201.5,336.1 L1205.1,334.3 L1208.8,332.6 L1212.4,330.6 L1216.1,328.9 L1219.7,327.0 L1223.3,325.2 L1227.0,323.3 L1230.6,321.4 L1234.3,319.8 L1237.9,318.3 L1241.5,316.9 L1245.2,315.1 L1248.8,313.1 L1252.5,311.0 L1256.1,309.1 L1259.7,307.4 L1263.4,305.6 L1267.0,303.7 L1270.7,301.9 L1274.3,300.1 L1277.9,298.5 L1281.6,296.9 L1285.2,295.3 L1288.9,293.8 L1292.5,291.9 L1296.1,289.9 L1299.8,287.7 L1303.4,285.7 L1307.1,283.6 L1310.7,281.7 L1314.3,279.9 L1318.0,278.3 L1321.6,276.6 L1325.3,274.7 L1328.9,272.8 L1332.5,271.0 L1336.2,269.2 L1339.8,267.4 L1343.5,265.2 L1347.1,263.1 L1350.7,261.3 L1354.4,260.0 L1358.0,258.5 L1361.7,256.9 L1365.3,254.7 L1368.9,252.6 L1372.6,250.5 L1376.2,249.0 L1379.9,247.1 L1383.5,245.3 L1387.1,243.2 L1390.8,241.4 L1394.4,239.5 L1398.1,237.9 L1401.7,236.3 L1405.3,234.9 L1409.0,233.2 L1412.6,231.2 L1416.3,229.0 L1419.9,226.8 L1423.5,225.0 L1427.2,223.4 L1430.8,221.9 L1434.5,220.2 L1438.1,218.2 L1441.7,216.3 L1445.4,214.7 L1449.0,213.3 L1452.7,211.6 L1456.3,209.9 L1459.9,208.0 L1463.6,206.4 L1467.2,204.7 L1470.9,202.7 L1474.5,200.3 L1478.1,198.2 L1481.8,196.8 L1485.4,195.5 L1489.1,193.7 L1492.7,191.9 L1496.3,190.2 L1500.0,188.4 L1503.6,186.3 L1507.3,183.8 L1510.9,181.7 L1514.5,179.8 L1518.2,178.2 L1521.8,176.7 L1525.5,175.3 L1529.1,173.7 L1532.7,171.9 L1536.4,170.0 L1540.0,168.1 L1543.7,166.3 L1547.3,164.6 L1550.9,163.1 L1554.6,161.5 L1558.2,159.7 L1561.9,157.6 L1565.5,155.4 L1569.1,153.8 L1572.8,152.3 L1576.4,151.4 L1580.1,150.2 L1583.7,148.8 L1587.3,146.4 L1591.0,143.8 L1594.6,141.3 L1598.3,139.5 L1601.9,137.7 L1605.5,135.9 L1609.2,134.1 L1612.8,132.8 L1616.5,131.3 L1620.1,129.5 L1623.7,127.1 L1627.4,124.5 L1631.0,122.3 L1634.7,120.7 L1638.3,119.2" stroke="#1838C8" stroke-width="2.0" stroke-dasharray="5.2 2.9" fill="none"/>
</g>
<rect x="873.9" y="34.4" width="764.4" height="472.7" fill="none" stroke="#1a1a1a" stroke-width="1.4"/>
<path d="M910.3,507.1 v-2.3 M910.3,34.4 v2.3 M873.9,484.4 h2.3 M1638.3,484.4 h-2.3" stroke="#1a1a1a" stroke-width="1" fill="none"/>
<path d="M946.7,507.1 v-1.6 M946.7,34.4 v1.6 M873.9,461.9 h1.6 M1638.3,461.9 h-1.6" stroke="#1a1a1a" stroke-width="1" fill="none"/>
<path d="M983.1,507.1 v-1.6 M983.1,34.4 v1.6 M873.9,439.4 h1.6 M1638.3,439.4 h-1.6" stroke="#1a1a1a" stroke-width="1" fill="none"/>
<path d="M1019.5,507.1 v-1.6 M1019.5,34.4 v1.6 M873.9,416.9 h1.6 M1638.3,416.9 h-1.6" stroke="#1a1a1a" stroke-width="1" fill="none"/>
<path d="M1055.9,507.1 v-2.3 M1055.9,34.4 v2.3 M873.9,394.4 h2.3 M1638.3,394.4 h-2.3" stroke="#1a1a1a" stroke-width="1" fill="none"/>
<path d="M1092.3,507.1 v-1.6 M1092.3,34.4 v1.6 M873.9,371.9 h1.6 M1638.3,371.9 h-1.6" stroke="#1a1a1a" stroke-width="1" fill="none"/>
<path d="M1128.7,507.1 v-1.6 M1128.7,34.4 v1.6 M873.9,349.4 h1.6 M1638.3,349.4 h-1.6" stroke="#1a1a1a" stroke-width="1" fill="none"/>
<path d="M1165.1,507.1 v-1.6 M1165.1,34.4 v1.6 M873.9,326.9 h1.6 M1638.3,326.9 h-1.6" stroke="#1a1a1a" stroke-width="1" fill="none"/>
<path d="M1201.5,507.1 v-2.3 M1201.5,34.4 v2.3 M873.9,304.4 h2.3 M1638.3,304.4 h-2.3" stroke="#1a1a1a" stroke-width="1" fill="none"/>
<path d="M1237.9,507.1 v-1.6 M1237.9,34.4 v1.6 M873.9,281.9 h1.6 M1638.3,281.9 h-1.6" stroke="#1a1a1a" stroke-width="1" fill="none"/>
<path d="M1274.3,507.1 v-1.6 M1274.3,34.4 v1.6 M873.9,259.4 h1.6 M1638.3,259.4 h-1.6" stroke="#1a1a1a" stroke-width="1" fill="none"/>
<path d="M1310.7,507.1 v-1.6 M1310.7,34.4 v1.6 M873.9,236.9 h1.6 M1638.3,236.9 h-1.6" stroke="#1a1a1a" stroke-width="1" fill="none"/>
<path d="M1347.1,507.1 v-2.3 M1347.1,34.4 v2.3 M873.9,214.4 h2.3 M1638.3,214.4 h-2.3" stroke="#1a1a1a" stroke-width="1" fill="none"/>
<path d="M1383.5,507.1 v-1.6 M1383.5,34.4 v1.6 M873.9,191.9 h1.6 M1638.3,191.9 h-1.6" stroke="#1a1a1a" stroke-width="1" fill="none"/>
<path d="M1419.9,507.1 v-1.6 M1419.9,34.4 v1.6 M873.9,169.4 h1.6 M1638.3,169.4 h-1.6" stroke="#1a1a1a" stroke-width="1" fill="none"/>
<path d="M1456.3,507.1 v-1.6 M1456.3,34.4 v1.6 M873.9,146.9 h1.6 M1638.3,146.9 h-1.6" stroke="#1a1a1a" stroke-width="1" fill="none"/>
<path d="M1492.7,507.1 v-2.3 M1492.7,34.4 v2.3 M873.9,124.4 h2.3 M1638.3,124.4 h-2.3" stroke="#1a1a1a" stroke-width="1" fill="none"/>
<path d="M1529.1,507.1 v-1.6 M1529.1,34.4 v1.6 M873.9,101.9 h1.6 M1638.3,101.9 h-1.6" stroke="#1a1a1a" stroke-width="1" fill="none"/>
<path d="M1565.5,507.1 v-1.6 M1565.5,34.4 v1.6 M873.9,79.4 h1.6 M1638.3,79.4 h-1.6" stroke="#1a1a1a" stroke-width="1" fill="none"/>
<path d="M1601.9,507.1 v-1.6 M1601.9,34.4 v1.6 M873.9,56.9 h1.6 M1638.3,56.9 h-1.6" stroke="#1a1a1a" stroke-width="1" fill="none"/>
<path d="M1638.3,507.1 v-2.3 M1638.3,34.4 v2.3 M873.9,34.4 h2.3 M1638.3,34.4 h-2.3" stroke="#1a1a1a" stroke-width="1" fill="none"/>
<text x="910.3" y="527.0" text-anchor="middle">0</text>
<text x="870" y="491.1" text-anchor="end">0</text>
<text x="1055.9" y="527.0" text-anchor="middle">2</text>
<text x="870" y="401.1" text-anchor="end">2</text>
<text x="1201.5" y="527.0" text-anchor="middle">4</text>
<text x="870" y="311.1" text-anchor="end">4</text>
<text x="1347.1" y="527.0" text-anchor="middle">6</text>
<text x="870" y="221.1" text-anchor="end">6</text>
<text x="1492.7" y="527.0" text-anchor="middle">8</text>
<text x="870" y="131.1" text-anchor="end">8</text>
<text x="1638.3" y="527.0" text-anchor="middle">10</text>
<text x="870" y="41.1" text-anchor="end">10</text>
<text x="1256.3" y="552" text-anchor="middle">true age, days</text>
<text transform="translate(841.3,271.2) rotate(-90)" text-anchor="middle">predicted age, days</text>
<text x="825" y="15.8">II.</text>
<rect x="1299.8" y="368.2" width="248.5" height="88.9" rx="4.5" ry="4.5" fill="#fff" stroke="#a8a8a8" stroke-width="1"/>
<text x="1424.2" y="386.6" text-anchor="middle">source of uncertainty</text>
<rect x="1305.7" y="399.4" width="19.2" height="19.2" fill="#DEEDFD" stroke="#a9b0b8" stroke-width="1"/>
<text x="1335" y="416.4">sampling variability</text>
<rect x="1305.7" y="430.4" width="19.2" height="19.2" fill="#05F805" stroke="#2AA02A" stroke-width="1"/>
<text x="1335" y="446.7">NIRS measurement error</text>
</svg>
</body></html>
